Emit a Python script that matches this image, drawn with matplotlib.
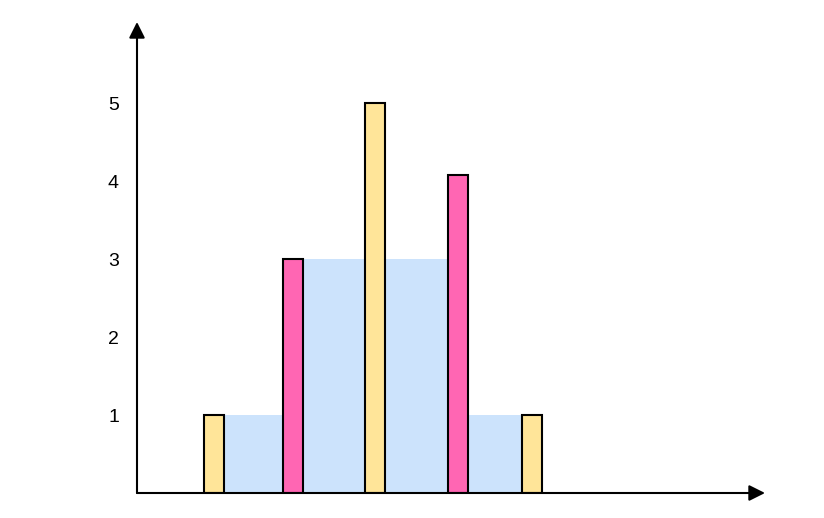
import matplotlib.pyplot as plt

# bar positions (in bar-spacing units) and heights
positions = [0.96, 1.95, 2.975, 4.01, 4.94]
heights = [1, 3, 5, 4.08, 1]
colors = ['#FFE599', '#FF66B3', '#FFE599', '#FF66B3', '#FFE599']

# water between neighbouring bars
water_left = [0.96, 1.95, 4.01]
water_right = [1.95, 4.01, 4.94]
water_level = [1, 3, 1]

y_ticks = [1, 2, 3, 4, 5]

plt.rcParams['font.family'] = ['Liberation Sans', 'DejaVu Sans']

fig = plt.figure(figsize=(8.24, 5.18), dpi=100)
W, H = 824, 518
x0, y0 = 137, 493
x1, y1 = 765, 22
ax = fig.add_axes([x0 / W, 1 - y0 / H, (x1 - x0) / W, (y0 - y1) / H])

unit_x = 80.0
unit_y = 78.0
ax.set_xlim(0, (x1 - x0) / unit_x)
ax.set_ylim(0, (y0 - y1) / unit_y)

bar_w = 20 / unit_x

for l, r, lvl in zip(water_left, water_right, water_level):
    ax.fill_between([l, r], 0, lvl, color='#CCE3FC', lw=0, zorder=1)

ax.bar(positions, heights, width=bar_w, color=colors, edgecolor='black',
       linewidth=1.5, zorder=3)

for s in ax.spines.values():
    s.set_visible(False)
ax.set_xticks([])
ax.set_yticks(y_ticks)
ax.tick_params(axis='y', length=0, pad=13, labelsize=14)

# arrowed axes
ax.annotate('', xy=(1, 0), xytext=(0, 0), xycoords='axes fraction',
            arrowprops=dict(arrowstyle='-|>', color='black', lw=1.5,
                            mutation_scale=24, shrinkA=0, shrinkB=0),
            annotation_clip=False, zorder=5)
ax.annotate('', xy=(0, 1), xytext=(0, 0), xycoords='axes fraction',
            arrowprops=dict(arrowstyle='-|>', color='black', lw=1.5,
                            mutation_scale=24, shrinkA=0, shrinkB=0),
            annotation_clip=False, zorder=5)

fig.savefig('out.png', dpi=100)
